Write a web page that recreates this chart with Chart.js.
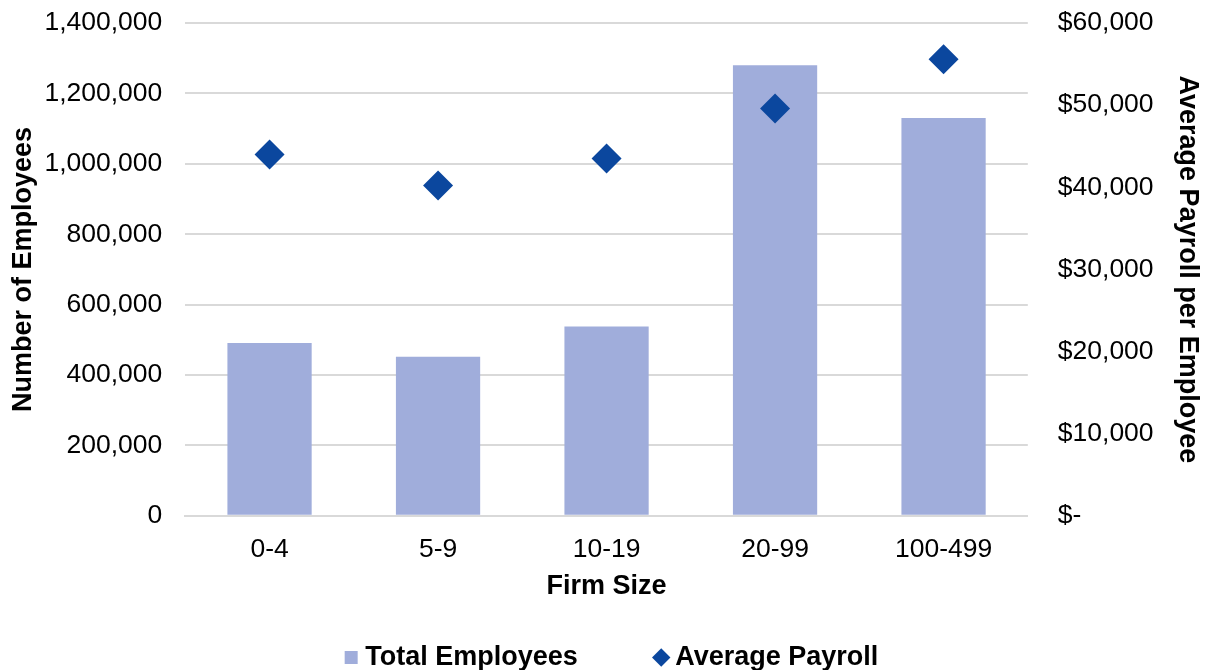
<!DOCTYPE html>
<html>
<head>
<meta charset="utf-8">
<script src="https://cdn.jsdelivr.net/npm/chart.js@4"></script>
<style>
  html, body { margin: 0; padding: 0; background: #fff; }
</style>
</head>
<body>
<canvas id="canvas" width="1209" height="670"></canvas>
<script>
// Datos
var firmSizes = ['0-4', '5-9', '10-19', '20-99', '100-499'];
var totalEmployees = [491000, 452000, 538000, 1280000, 1130000];
var averagePayroll = [44000, 40200, 43500, 49600, 55600];
var leftTicks = [0, 200000, 400000, 600000, 800000, 1000000, 1200000, 1400000];
var rightTicks = [0, 10000, 20000, 30000, 40000, 50000, 60000];

var barColor = '#A0ADDB';
var pointColor = '#0B479E';
var gridColor = '#D9D9D9';
var font = 'Liberation Sans, Arial, sans-serif';

Chart.defaults.font.family = font;
Chart.defaults.color = '#000';

// Ajusta el ancho del eje y quita el relleno superior/inferior que añade Chart.js
function trimAxis(extra) {
  return function(scale) {
    scale.width -= extra;
    scale.paddingTop = 0;
    scale.paddingBottom = 0;
  };
}

var ctx = document.getElementById('canvas');

var chart = new Chart(ctx, {
  type: 'bar',
  data: {
    labels: firmSizes,
    datasets: [{
      type: 'line',
      label: 'Average Payroll',
      data: averagePayroll,
      yAxisID: 'y1',
      showLine: false,
      pointStyle: 'rectRot',
      pointRadius: 15,
      pointHoverRadius: 15,
      backgroundColor: pointColor,
      borderColor: pointColor,
      borderWidth: 0,
      order: 0
    }, {
      label: 'Total Employees',
      data: totalEmployees,
      yAxisID: 'y',
      backgroundColor: barColor,
      categoryPercentage: 0.5,
      barPercentage: 1,
      order: 1
    }]
  },
  plugins: [{
    id: 'legendShift',
    afterLayout: function(c) {
      c.legend.left += 10;
      c.legend.right += 10;
    }
  }],
  options: {
    responsive: false,
    animation: { duration: 0 },
    layout: { autoPadding: false, padding: { left: 3, right: 3, top: 23, bottom: -11 } },
    plugins: {
      legend: {
        position: 'bottom',
        reverse: true,
        labels: {
          font: { size: 27, weight: 'bold' },
          usePointStyle: true,
          boxWidth: 1,
          boxHeight: 13,
          padding: 83,
          generateLabels: function(c) {
            return c.data.datasets.map(function(ds, i) {
              return {
                text: ds.label,
                fillStyle: ds.backgroundColor,
                strokeStyle: ds.backgroundColor,
                lineWidth: 0,
                pointStyle: ds.type === 'line' ? 'rectRot' : 'rect',
                datasetIndex: i,
                fontColor: '#000'
              };
            });
          }
        }
      },
      tooltip: { enabled: false }
    },
    scales: {
      x: {
        grid: { display: false },
        border: { display: true, color: gridColor, width: 2 },
        ticks: { font: { size: 26.5 }, padding: 10 },
        title: { display: true, text: 'Firm Size', font: { size: 27, weight: 'bold' }, padding: { top: -5, bottom: -42 } }
      },
      y: {
        position: 'left',
        min: 0,
        max: 1400000,
        afterBuildTicks: function(axis) { axis.ticks = leftTicks.map(function(v) { return { value: v }; }); },
        afterFit: trimAxis(20),
        grid: { color: gridColor, lineWidth: 2, drawTicks: false },
        border: { display: false },
        ticks: {
          font: { size: 26.5 },
          padding: 23,
          callback: function(v) { return v.toLocaleString('en-US'); }
        },
        title: { display: true, text: 'Number of Employees', font: { size: 27, weight: 'bold' }, padding: { bottom: 2 } }
      },
      y1: {
        position: 'right',
        min: 0,
        max: 60000,
        afterBuildTicks: function(axis) { axis.ticks = rightTicks.map(function(v) { return { value: v }; }); },
        afterFit: trimAxis(16),
        grid: { display: false, drawTicks: false },
        border: { display: false },
        ticks: {
          font: { size: 26.5 },
          padding: 30,
          callback: function(v) { return v === 0 ? '$-' : '$' + v.toLocaleString('en-US'); }
        },
        title: { display: true, text: 'Average Payroll per Employee', font: { size: 27, weight: 'bold' }, padding: { top: 2 } }
      }
    }
  }
});
</script>
</body>
</html>
